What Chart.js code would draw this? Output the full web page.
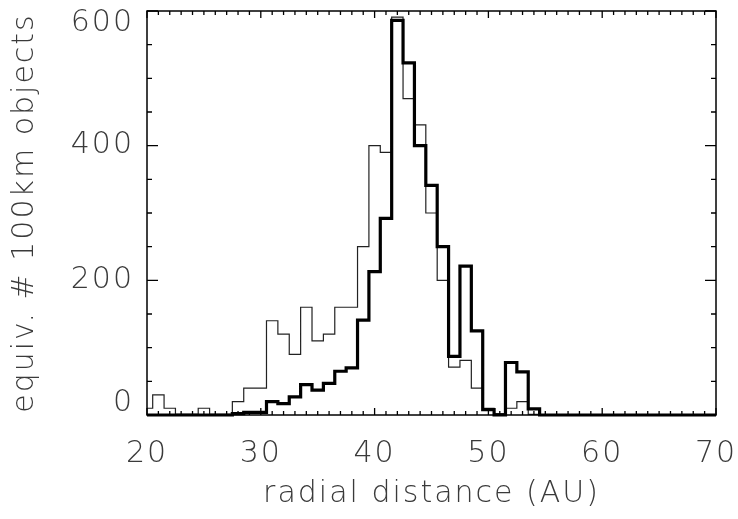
<!DOCTYPE html>
<html>
<head>
<meta charset="utf-8">
<script src="https://cdn.jsdelivr.net/npm/chart.js@4/dist/chart.umd.min.js"></script>
<style>
    html, body { margin: 0; padding: 0; background: #fff; }
    #wrap { width: 738px; height: 519px; }
</style>
</head>
<body>
<div id="wrap"><canvas id="chart"></canvas></div>
<script>
// bin centres (AU), 1 AU wide bins
const binCenters = [20, 21, 22, 23, 24, 25, 26, 27, 28, 29,
                    30, 31, 32, 33, 34, 35, 36, 37, 38, 39,
                    40, 41, 42, 43, 44, 45, 46, 47, 48, 49,
                    50, 51, 52, 53, 54, 55, 56, 57, 58, 59,
                    60, 61, 62, 63, 64, 65, 66, 67, 68, 69, 70];

// thin histogram
const thinCounts = [10, 30, 10, 1, 1, 10, 1, 1, 20, 40,
                    40, 140, 120, 90, 160, 110, 120, 160, 160, 250,
                    400, 390, 591, 470, 431, 300, 200, 71, 81, 40,
                    10, 2, 10, 20, 1, 0, 0, 0, 0, 0,
                    0, 0, 0, 0, 0, 0, 0, 0, 0, 0, 0];

// thick histogram
const thickCounts = [0, 0, 0, 0, 0, 0, 0, 0, 2, 4,
                     4, 20, 17, 27, 45, 37, 47, 65, 70, 141,
                     213, 292, 586, 523, 400, 341, 250, 87, 221, 125,
                     8, 0, 78, 64, 9, 0, 0, 0, 0, 0,
                     0, 0, 0, 0, 0, 0, 0, 0, 0, 0, 0];

const xTickLabels = [20, 30, 40, 50, 60, 70];
const yTickLabels = [0, 200, 400, 600];

const FONT = "'DejaVu Sans', 'Liberation Sans', sans-serif";
const TEXT = '#3a3a3a';

// inward IDL-style ticks on all four sides, plus the frame
const frameTicks = {
    id: 'frameTicks',
    beforeDraw(chart) {
        // the original vector font is wide, so space the letters out a little
        chart.ctx.letterSpacing = '2px';
    },
    afterDraw(chart) {
        const { ctx, chartArea: a, scales: { x, y } } = chart;
        ctx.save();
        ctx.strokeStyle = '#000';
        ctx.lineWidth = 1.3;
        ctx.beginPath();
        for (let v = 20; v <= 70; v += 1) {
            const px = x.getPixelForValue(v);
            const len = v % 10 === 0 ? 7 : 4;
            ctx.moveTo(px, a.bottom); ctx.lineTo(px, a.bottom - len);
            ctx.moveTo(px, a.top); ctx.lineTo(px, a.top + len);
        }
        for (let v = 0; v <= 600; v += 50) {
            const py = y.getPixelForValue(v);
            const len = v % 200 === 0 ? 11 : 5;
            ctx.moveTo(a.left, py); ctx.lineTo(a.left + len, py);
            ctx.moveTo(a.right, py); ctx.lineTo(a.right - len, py);
        }
        ctx.stroke();
        ctx.lineWidth = 1.5;
        ctx.strokeRect(a.left, a.top, a.right - a.left, a.bottom - a.top);
        ctx.restore();
    }
};

const toPoints = counts => binCenters.map((c, i) => ({ x: c, y: counts[i] }));

new Chart(document.getElementById('chart'), {
    type: 'line',
    data: {
        datasets: [
            {
                label: 'thick',
                data: toPoints(thickCounts),
                stepped: 'middle',
                borderColor: '#000',
                borderWidth: 3.2,
                pointRadius: 0,
                borderJoinStyle: 'miter',
                clip: 4
            },
            {
                label: 'thin',
                data: toPoints(thinCounts),
                stepped: 'middle',
                borderColor: '#222',
                borderWidth: 1.2,
                pointRadius: 0,
                borderJoinStyle: 'miter',
                clip: 4
            }
        ]
    },
    options: {
        responsive: true,
        maintainAspectRatio: false,
        animation: false,
        layout: { padding: { top: 11, right: 22, left: 0, bottom: 0 } },
        plugins: {
            legend: { display: false },
            tooltip: { enabled: false }
        },
        scales: {
            x: {
                type: 'linear',
                min: 20,
                max: 70,
                afterBuildTicks: scale => {
                    scale.ticks = xTickLabels.map(v => ({ value: v }));
                },
                afterFit: scale => {
                    scale.height = 104;
                    scale.paddingLeft = 0;
                    scale.paddingRight = 0;
                },
                grid: { display: false, drawTicks: false },
                border: { display: false },
                ticks: {
                    padding: 21,
                    color: TEXT,
                    maxRotation: 0,
                    font: { family: FONT, size: 30, weight: 200 }
                },
                title: {
                    display: true,
                    text: 'radial distance (AU)',
                    color: TEXT,
                    padding: { top: 0, bottom: 7 },
                    font: { family: FONT, size: 30, weight: 200, lineHeight: 1.2 }
                }
            },
            y: {
                min: 0,
                max: 600,
                afterBuildTicks: scale => {
                    scale.ticks = yTickLabels.map(v => ({ value: v }));
                },
                afterFit: scale => {
                    scale.width = 147;
                    scale.paddingTop = 0;
                    scale.paddingBottom = 0;
                },
                grid: { display: false, drawTicks: false },
                border: { display: false },
                ticks: {
                    padding: 13,
                    color: TEXT,
                    font: { family: FONT, size: 30, weight: 200, lineHeight: 0.8 },
                    // nudge end labels inside the frame, as in the original plot
                    callback: v => v === 600 ? ['', '600'] : v === 0 ? ['0', ''] : String(v)
                },
                title: {
                    display: true,
                    text: 'equiv. # 100km objects',
                    color: TEXT,
                    padding: { top: 7, bottom: 0 },
                    font: { family: FONT, size: 30, weight: 200, lineHeight: 1.2 }
                }
            }
        }
    },
    plugins: [frameTicks]
});
</script>
</body>
</html>
